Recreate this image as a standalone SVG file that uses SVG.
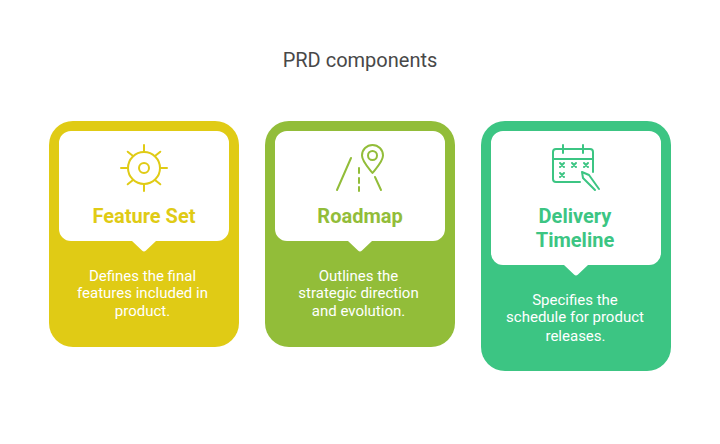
<svg xmlns="http://www.w3.org/2000/svg" width="720" height="444" viewBox="0 0 720 444">
<style>
text{font-family:Roboto,"Liberation Sans",sans-serif;text-anchor:middle}
.title{font-size:20px;fill:#484848}
.head{font-size:20px;font-weight:700}
.body{font-size:15px;fill:#fff}
.ic{fill:none;stroke-width:2;stroke-linecap:round;stroke-linejoin:round}
.y{fill:#e0cb15}.g{fill:#92bd39}.t{fill:#3cc583}
.iy{stroke:#e0cb15}.ig{stroke:#92bd39}.it{stroke:#3cc583}
.w{fill:#fff}
</style>
<rect width="720" height="444" fill="#fff"/>
<text class="title" x="360" y="67">PRD components</text>
<g id="connectors"/>
<g id="feature-set">
<rect class="y" x="49" y="121" width="190" height="226" rx="24"/>
<path class="w" d="M71 131H217a12 12 0 0 1 12 12V229a12 12 0 0 1-12 12H156L146 250.500a3 3 0 0 1-4 0L132 241H71a12 12 0 0 1-12-12V143a12 12 0 0 1 12-12Z"/>
<g class="ic iy">
<circle cx="144" cy="168" r="16"/><circle cx="144" cy="168" r="5"/>
<path d="M144 145v7M144 184v7M121 168h7M160 168h7M127.700 151.700l5 4M160.300 151.700l-5 4M127.700 184.300l5-4M160.300 184.300l-5-4"/>
</g>
<text class="head y" x="144" y="223">Feature Set</text>
<text class="body" x="142.500" y="281">Defines the final</text>
<text class="body" x="142.500" y="298">features included in</text>
<text class="body" x="142.500" y="316">product.</text>
</g>
<g id="roadmap">
<rect class="g" x="265" y="121" width="190" height="226" rx="24"/>
<path class="w" d="M287 131H433a12 12 0 0 1 12 12V229a12 12 0 0 1-12 12H372L362 250.500a3 3 0 0 1-4 0L348 241H287a12 12 0 0 1-12-12V143a12 12 0 0 1 12-12Z"/>
<g class="ic ig">
<path d="M351 158L337 190M359 168v5M359 178v5M359 187v4M375 177L381 190"/>
<path d="M372.500 173C367 166 362 161 362 155.500a10.500 10.500 0 0 1 21 0C383 161 378 166 372.500 173Z"/>
<circle cx="372.500" cy="155.500" r="4.500"/>
</g>
<text class="head g" x="360" y="223">Roadmap</text>
<text class="body" x="358.500" y="281">Outlines the</text>
<text class="body" x="358.500" y="298">strategic direction</text>
<text class="body" x="358.500" y="316">and evolution.</text>
</g>
<g id="delivery-timeline">
<rect class="t" x="481" y="121" width="190" height="250" rx="24"/>
<path class="w" d="M503 131H649a12 12 0 0 1 12 12V253a12 12 0 0 1-12 12H588L578 274.500a3 3 0 0 1-4 0L564 265H503a12 12 0 0 1-12-12V143a12 12 0 0 1 12-12Z"/>
<g class="ic it">
<path d="M580 182H556a3 3 0 0 1-3-3V152a3 3 0 0 1 3-3H590a3 3 0 0 1 3 3V172"/>
<path d="M553 159H593M563 145v8M583 145v8"/>
<path d="M560 163l4 4M564 163l-4 4M572 163l4 4M576 163l-4 4M584 163l4 4M588 163l-4 4M560 173l4 4M564 173l-4 4"/>
<path d="M582 172L589 175L599 189M582 172L583 178L595 190"/>
</g>
<text class="head t" x="575" y="223">Delivery</text>
<text class="head t" x="575" y="247">Timeline</text>
<text class="body" x="575" y="305">Specifies the</text>
<text class="body" x="575" y="322">schedule for product</text>
<text class="body" x="575.500" y="341">releases.</text>
</g>
</svg>
